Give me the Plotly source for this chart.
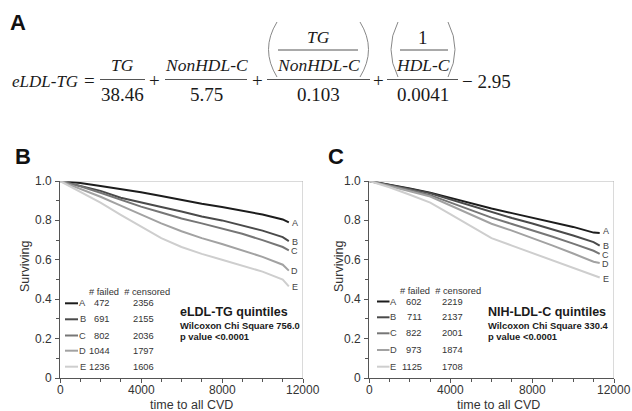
import plotly.graph_objects as go

W, H = 632, 411

# ---------------- data ----------------
groups = ["A", "B", "C", "D", "E"]
colors = ["#1c1c1c", "#4a4a4a", "#767676", "#a2a2a2", "#cecece"]

time_pts = [0, 1000, 2000, 3000, 4000, 5000, 6000, 7000, 8000, 9000, 10000, 11000, 11300]

surv_eldl = {
    "A": [1.0, 0.990, 0.975, 0.960, 0.943, 0.924, 0.904, 0.885, 0.868, 0.850, 0.830, 0.805, 0.790],
    "B": [1.0, 0.975, 0.950, 0.915, 0.890, 0.868, 0.845, 0.820, 0.800, 0.775, 0.748, 0.715, 0.695],
    "C": [1.0, 0.973, 0.940, 0.905, 0.870, 0.840, 0.810, 0.785, 0.760, 0.732, 0.700, 0.665, 0.648],
    "D": [1.0, 0.962, 0.920, 0.875, 0.830, 0.785, 0.745, 0.710, 0.680, 0.648, 0.615, 0.575, 0.545],
    "E": [1.0, 0.945, 0.890, 0.828, 0.770, 0.710, 0.665, 0.630, 0.600, 0.570, 0.540, 0.500, 0.465],
}
surv_nih = {
    "A": [1.0, 0.982, 0.962, 0.941, 0.914, 0.887, 0.860, 0.837, 0.815, 0.791, 0.767, 0.738, 0.736],
    "B": [1.0, 0.981, 0.960, 0.938, 0.906, 0.873, 0.841, 0.812, 0.784, 0.754, 0.723, 0.690, 0.672],
    "C": [1.0, 0.979, 0.955, 0.928, 0.890, 0.852, 0.814, 0.782, 0.751, 0.717, 0.682, 0.646, 0.630],
    "D": [1.0, 0.975, 0.948, 0.921, 0.875, 0.830, 0.783, 0.748, 0.712, 0.672, 0.632, 0.590, 0.584],
    "E": [1.0, 0.968, 0.930, 0.890, 0.830, 0.770, 0.710, 0.672, 0.634, 0.597, 0.560, 0.522, 0.510],
}
end_label_eldl = [0.787, 0.692, 0.646, 0.543, 0.463]
end_label_nih = [0.744, 0.672, 0.625, 0.579, 0.503]

failed_eldl = [472, 691, 802, 1044, 1236]
censored_eldl = [2356, 2155, 2036, 1797, 1606]
failed_nih = [602, 711, 822, 973, 1125]
censored_nih = [2219, 2137, 2001, 1874, 1708]

x_ticks = [0, 4000, 8000, 12000]
x_tick_text = ["0", "4000", "8000", "12000"]
y_ticks = [0, 0.2, 0.4, 0.6, 0.8, 1.0]
y_tick_text = ["0", "0.2", "0.4", "0.6", "0.8", "1.0"]

title_eldl = ["eLDL-TG quintiles", "Wilcoxon Chi Square 756.0", "p value <0.0001"]
title_nih = ["NIH-LDL-C quintiles", "Wilcoxon Chi Square 330.4", "p value <0.0001"]


def px(x):
    return x / W


def py(y):
    return 1 - y / H


SANS = "Liberation Sans, Arial, sans-serif"
SERIF = "Liberation Serif, Times New Roman, serif"

fig = go.Figure()

for g, c in zip(groups, colors):
    fig.add_trace(go.Scatter(x=time_pts, y=surv_eldl[g], mode="lines",
                             line=dict(color=c, width=2), xaxis="x", yaxis="y",
                             showlegend=False, hoverinfo="skip"))
    fig.add_trace(go.Scatter(x=time_pts, y=surv_nih[g], mode="lines",
                             line=dict(color=c, width=2), xaxis="x2", yaxis="y2",
                             showlegend=False, hoverinfo="skip"))

annotations = []
shapes = []


def ann(text, x, y, size, color="#222", xanchor="center", family=SANS, ref=("paper", "paper"),
        angle=0, xshift=0, convert=True):
    if ref == ("paper", "paper") and convert:
        x, y = px(x), py(y)
    annotations.append(dict(text=text, x=x, y=y, xref=ref[0], yref=ref[1], showarrow=False,
                            xanchor=xanchor, yanchor="middle", textangle=angle, xshift=xshift,
                            font=dict(family=family, size=size, color=color)))


def hline(x0, x1, y, color="#555", width=1):
    shapes.append(dict(type="line", xref="paper", yref="paper", x0=px(x0), x1=px(x1),
                       y0=py(y), y1=py(y), line=dict(color=color, width=width)))


# ---------------- equation (panel A) ----------------
ann("<b>A</b>", 17.5, 22.5, 22, color="#111")
IT, NUM = 17.5, 19
eq_parts = [
    ("<i>eLDL-TG</i>", 44.5, 81.7, 17),
    ("=", 89, 80, NUM),
    ("<i>TG</i>", 122.5, 65, IT), ("38.46", 122.5, 94.3, NUM),
    ("+", 154, 80, NUM),
    ("<i>NonHDL-C</i>", 206, 65, IT), ("5.75", 206, 94.3, NUM),
    ("+", 257, 80, NUM),
    ("<i>TG</i>", 318, 37.3, IT), ("<i>NonHDL-C</i>", 318, 65, IT), ("0.103", 318, 94.3, NUM),
    ("+", 378, 80, NUM),
    ("1", 423, 37.3, NUM), ("<i>HDL-C</i>", 423, 65, IT), ("0.0041", 423, 94.3, NUM),
    ("\u2212 2.95", 486, 81.7, NUM),
]
for t, x, y, s in eq_parts:
    ann(t, x, y, s, color="#1a1a1a", family=SERIF)
for x0, x1, y in [(100, 145, 79.5), (165, 247, 79.5), (267, 370, 79.5), (278, 358, 50),
                  (387, 458, 79.5), (400, 448, 50)]:
    hline(x0, x1, y, color="#555")
for xe, xc in [(277, 260), (360, 377), (398, 384), (448, 462)]:
    shapes.append(dict(type="path", xref="paper", yref="paper",
                       path=f"M {px(xe)},{py(22)} Q {px(xc)},{py(49.5)} {px(xe)},{py(77)}",
                       line=dict(color="#888", width=1)))

# ---------------- panels B and C ----------------
panels = [
    dict(letter="B", lx=22.5, xa="x", ya="y", x0=60, x1=303, surv=surv_eldl, ends=end_label_eldl,
         failed=failed_eldl, cens=censored_eldl, title=title_eldl, tx=178.3,
         rows=[303.3, 319.3, 335.5, 350.7, 366.7], hdr=(87.3, 292.3), samp=(65, 78), let=82.5,
         fr=112, cc=143, xt=191, yt=25),
    dict(letter="C", lx=336.5, xa="x2", ya="y2", x0=369, x1=614, surv=surv_nih, ends=end_label_nih,
         failed=failed_nih, cens=censored_nih, title=title_nih, tx=486,
         rows=[301.5, 317.3, 333.3, 350, 366.7], hdr=(398.3, 290.7), samp=(377, 389.5), let=393,
         fr=424, cc=452, xt=498, yt=339),
]
Y0, Y1 = 181, 378

for i, p in enumerate(panels):
    sfx = "" if i == 0 else "2"
    axis_common = dict(showgrid=False, zeroline=False, showline=True, linecolor="#555", linewidth=1,
                       ticks="outside", ticklen=4, tickcolor="#555", tickwidth=1,
                       showticklabels=False)
    fig.update_layout(**{
        "xaxis" + sfx: dict(domain=[px(p["x0"]), px(p["x1"])], range=[0, 12000], anchor=p["ya"],
                            tickvals=x_ticks,
                            minor=dict(dtick=1000, tick0=0, ticks="outside", ticklen=3, tickcolor="#555"),
                            **axis_common),
        "yaxis" + sfx: dict(domain=[py(Y1), py(Y0)], range=[0, 1], anchor=p["xa"],
                            tickvals=y_ticks,
                            minor=dict(dtick=0.1, tick0=0, ticks="outside", ticklen=3, tickcolor="#555"),
                            **axis_common),
    })
    # tick labels, positioned through the axes
    for v, t in zip(y_ticks, y_tick_text):
        ann(t, 0, v, 12, color="#333", xanchor="right", ref=(p["xa"], p["ya"]), xshift=-6)
    for v, t in zip(x_ticks, x_tick_text):
        ann(t, v, py(389.5), 12, color="#333", ref=(p["xa"], "paper"))
    # light frame top/right
    shapes.append(dict(type="line", xref=p["xa"], yref=p["ya"], x0=0, x1=12000, y0=1, y1=1,
                       line=dict(color="#b5b5b5", width=1)))
    shapes.append(dict(type="line", xref=p["xa"], yref=p["ya"], x0=12000, x1=12000, y0=0, y1=1,
                       line=dict(color="#b5b5b5", width=1)))
    ann("<b>" + p["letter"] + "</b>", p["lx"], 156.7, 22, color="#111")
    ann("time to all CVD", p["xt"], 405, 12.5, color="#333")
    ann("Surviving", p["yt"], 267, 12.5, color="#333", angle=-90)
    # end-of-curve labels
    for g, yv in zip(groups, p["ends"]):
        ann(g, 11600, yv, 9, color="#444", ref=(p["xa"], p["ya"]))
    # at-risk table
    ann("# failed  # censored", p["hdr"][0], p["hdr"][1], 9.3, color="#333", xanchor="left")
    for g, c, yr, f, ce in zip(groups, colors, p["rows"], p["failed"], p["cens"]):
        hline(p["samp"][0], p["samp"][1], yr, color=c, width=2)
        ann(g, p["let"], yr, 9.3, color="#444")
        ann(str(f), p["fr"], yr, 9.3, color="#333", xanchor="right")
        ann(str(ce), p["cc"], yr, 9.3, color="#333")
    # titles
    ann("<b>" + p["title"][0] + "</b>", p["tx"], 312.3, 12.5, color="#1a1a1a", xanchor="left")
    ann("<b>" + p["title"][1] + "</b>", p["tx"], 325, 9.4, color="#1a1a1a", xanchor="left")
    ann("<b>" + p["title"][2] + "</b>", p["tx"], 336.5, 9.4, color="#1a1a1a", xanchor="left")

fig.update_layout(width=W, height=H, autosize=False, margin=dict(l=0, r=0, t=0, b=0),
                  paper_bgcolor="white", plot_bgcolor="white", showlegend=False,
                  annotations=annotations, shapes=shapes,
                  font=dict(family=SANS))

fig.write_html("out.html", config={"displayModeBar": False},
               post_script="document.body.style.margin='0';")
